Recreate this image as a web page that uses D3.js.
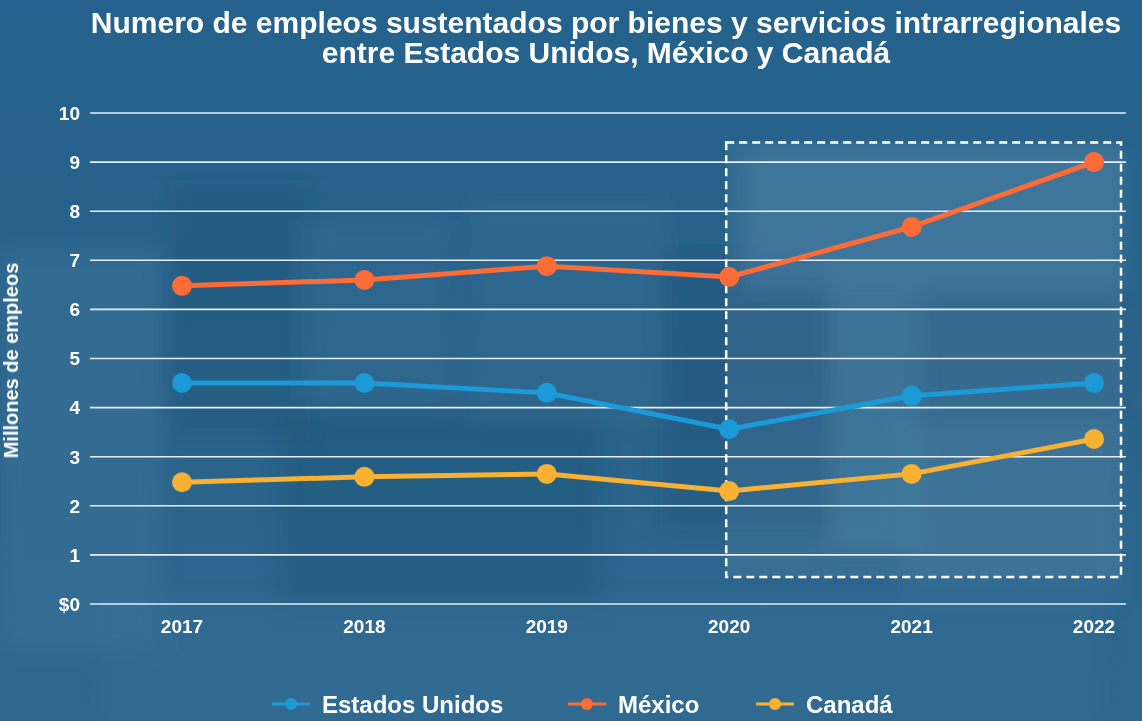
<!DOCTYPE html>
<html>
<head>
<meta charset="utf-8">
<script src="https://cdn.jsdelivr.net/npm/d3@7"></script>
<style>
  html, body { margin: 0; padding: 0; background: #2a6590; }
  svg { display: block; font-family: "Liberation Sans", Arial, sans-serif; }
</style>
</head>
<body>
<div id="chart"></div>
<script>
// Data
var years = ["2017", "2018", "2019", "2020", "2021", "2022"];
var usValues = [4.5, 4.5, 4.3, 3.56, 4.24, 4.5];
var mexicoValues = [6.48, 6.6, 6.88, 6.66, 7.68, 9.0];
var canadaValues = [2.48, 2.59, 2.65, 2.3, 2.65, 3.36];
var yTicks = [0, 1, 2, 3, 4, 5, 6, 7, 8, 9, 10];
var seriesNames = ["Estados Unidos", "México", "Canadá"];
var seriesColors = ["#1c9ad8", "#fd6b37", "#f8b133"];
// highlighted period
var highlightYears = ["2020", "2022"];

var width = 1142, height = 721;
var margin = { top: 113, right: 48, bottom: 117, left: 182 };

var svg = d3.select("#chart").append("svg")
    .attr("width", width)
    .attr("height", height);

// background: blue gradient with some soft blocks to suggest the blurred photo
var defs = svg.append("defs");
var grad = defs.append("linearGradient").attr("id", "bg").attr("x1", 0).attr("y1", 0).attr("x2", 0).attr("y2", 1);
grad.append("stop").attr("offset", "0%").attr("stop-color", "#24628d");
grad.append("stop").attr("offset", "50%").attr("stop-color", "#2a6289");
grad.append("stop").attr("offset", "100%").attr("stop-color", "#2e6890");
defs.append("filter").attr("id", "soft").append("feGaussianBlur").attr("stdDeviation", 10);

svg.append("rect").attr("width", width).attr("height", height).attr("fill", "url(#bg)");

var blocks = svg.append("g").attr("filter", "url(#soft)");
[[0, 250, 160, 400, "#3a7399", 0.55],
 [170, 180, 140, 260, "#1f5479", 0.35],
 [280, 410, 320, 200, "#1f5479", 0.4],
 [300, 220, 150, 180, "#3a7399", 0.3],
 [470, 200, 200, 220, "#3a7399", 0.3],
 [660, 250, 170, 280, "#1d5177", 0.35],
 [745, 150, 380, 140, "#4380a6", 0.4],
 [830, 290, 90, 260, "#4380a6", 0.3],
 [900, 420, 220, 180, "#3e7ba0", 0.3],
 [100, 600, 1000, 120, "#3a7399", 0.25]].forEach(function (b) {
  blocks.append("rect").attr("x", b[0]).attr("y", b[1]).attr("width", b[2]).attr("height", b[3])
      .attr("fill", b[4]).attr("opacity", b[5]);
});

// scales
var x = d3.scalePoint()
    .domain(years)
    .range([margin.left, width - margin.right]);

var y = d3.scaleLinear()
    .domain([0, 10])
    .range([height - margin.bottom, margin.top]);

// gridlines
svg.append("g").selectAll("line")
    .data(yTicks)
    .enter().append("line")
    .attr("x1", 90)
    .attr("x2", 1126)
    .attr("y1", function (d) { return y(d); })
    .attr("y2", function (d) { return y(d); })
    .attr("stroke", "#e6eef4")
    .attr("stroke-width", 1.6);

// y tick labels
svg.append("g").selectAll("text")
    .data(yTicks)
    .enter().append("text")
    .attr("x", 80)
    .attr("y", function (d) { return y(d); })
    .attr("dy", "0.36em")
    .attr("text-anchor", "end")
    .attr("fill", "#ffffff")
    .attr("font-size", 19)
    .attr("font-weight", "bold")
    .text(function (d) { return d === 0 ? "$0" : d; });

// x tick labels
svg.append("g").selectAll("text")
    .data(years)
    .enter().append("text")
    .attr("x", function (d) { return x(d); })
    .attr("y", 633)
    .attr("text-anchor", "middle")
    .attr("fill", "#ffffff")
    .attr("font-size", 19)
    .attr("font-weight", "bold")
    .text(function (d) { return d; });

// y axis title
svg.append("text")
    .attr("transform", "translate(18," + (y(5) + 2) + ") rotate(-90)")
    .attr("text-anchor", "middle")
    .attr("fill", "#ffffff")
    .attr("font-size", 20)
    .attr("font-weight", "bold")
    .text("Millones de empleos");

// highlight box
svg.append("rect")
    .attr("x", x(highlightYears[0]) - 3)
    .attr("y", y(9.4))
    .attr("width", x(highlightYears[1]) + 27 - (x(highlightYears[0]) - 3))
    .attr("height", y(0.55) - y(9.4))
    .attr("fill", "#ffffff")
    .attr("fill-opacity", 0.06)
    .attr("stroke", "#ffffff")
    .attr("stroke-width", 2.5)
    .attr("stroke-dasharray", "8,5");

// lines
var allSeries = [usValues, mexicoValues, canadaValues];
var line = d3.line()
    .x(function (d, i) { return x(years[i]); })
    .y(function (d) { return y(d); });

allSeries.forEach(function (vals, s) {
  var g = svg.append("g");
  g.append("path")
      .datum(vals)
      .attr("d", line)
      .attr("fill", "none")
      .attr("stroke", seriesColors[s])
      .attr("stroke-width", 5);
  g.selectAll("circle")
      .data(vals)
      .enter().append("circle")
      .attr("cx", function (d, i) { return x(years[i]); })
      .attr("cy", function (d) { return y(d); })
      .attr("r", 10)
      .attr("fill", seriesColors[s]);
});

// title
var title = svg.append("text")
    .attr("text-anchor", "middle")
    .attr("fill", "#ffffff")
    .attr("font-size", 30)
    .attr("font-weight", "bold");
title.append("tspan").attr("x", 606).attr("y", 33).text("Numero de empleos sustentados por bienes y servicios intrarregionales");
title.append("tspan").attr("x", 606).attr("y", 63).text("entre Estados Unidos, México y Canadá");

// legend
var legendX = [272, 568, 756];
var legend = svg.append("g");
seriesNames.forEach(function (name, i) {
  var lg = legend.append("g").attr("transform", "translate(" + legendX[i] + ",704)");
  lg.append("line").attr("x1", 0).attr("x2", 38).attr("stroke", seriesColors[i]).attr("stroke-width", 3);
  lg.append("circle").attr("cx", 19).attr("r", 6).attr("fill", seriesColors[i]);
  lg.append("text")
      .attr("x", 50)
      .attr("dy", "0.36em")
      .attr("fill", "#ffffff")
      .attr("font-size", 24)
      .attr("font-weight", "bold")
      .text(name);
});
</script>
</body>
</html>
